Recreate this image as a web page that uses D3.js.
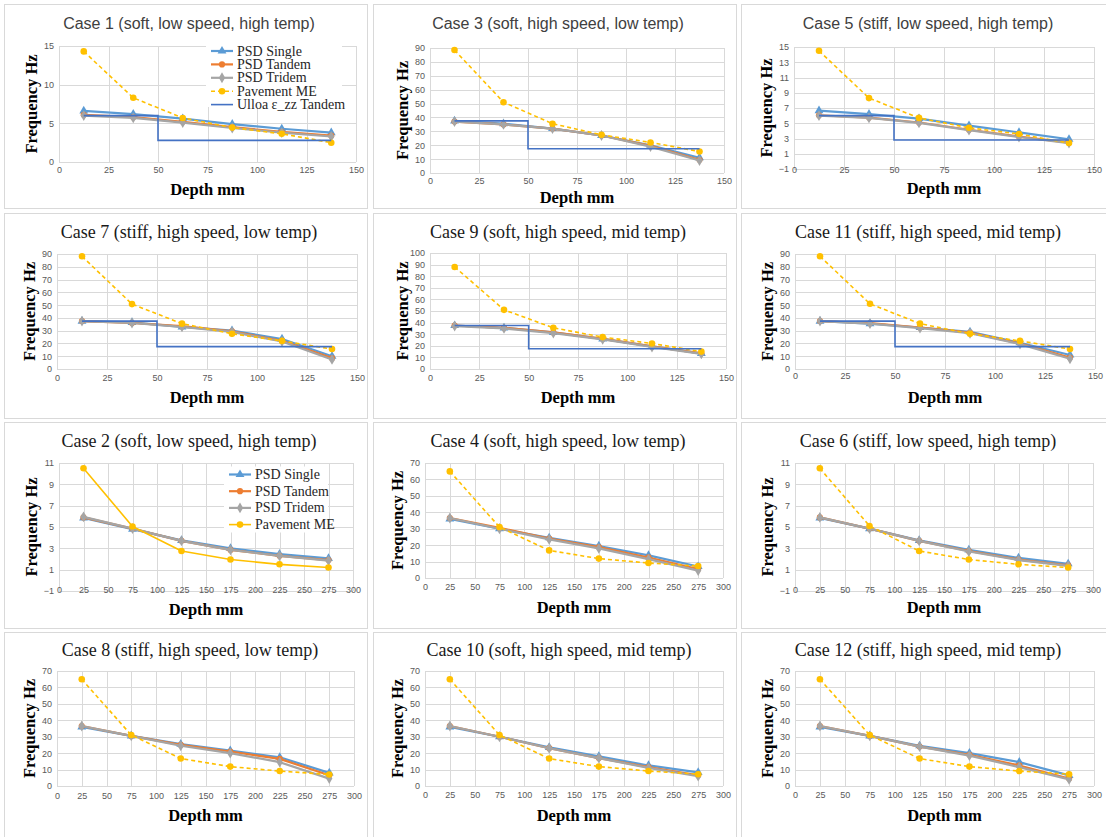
<!DOCTYPE html>
<html>
<head>
	<meta charset="utf-8">
	<title>PSD vs Pavement ME frequency</title>
	<script type="text/javascript" src="https://cdn.jsdelivr.net/npm/d3@7/dist/d3.min.js"></script>
	<style>
		body { margin: 0; background: #fff; }
	</style>
</head>
<body>
	<script type="text/javascript">
		// panel order on the page (row by row)
		var caseOrder = [1, 3, 5, 7, 9, 11, 2, 4, 6, 8, 10, 12];
		var titles = {
			1: "Case 1 (soft, low speed, high temp)",
			2: "Case 2 (soft, low speed, high temp)",
			3: "Case 3 (soft, high speed, low temp)",
			4: "Case 4 (soft, high speed, low temp)",
			5: "Case 5 (stiff, low speed, high temp)",
			6: "Case 6 (stiff, low speed, high temp)",
			7: "Case 7 (stiff, high speed, low temp)",
			8: "Case 8 (stiff, high speed, low temp)",
			9: "Case 9 (soft, high speed, mid temp)",
			10: "Case 10 (soft, high speed, mid temp)",
			11: "Case 11 (stiff, high speed, mid temp)",
			12: "Case 12 (stiff, high speed, mid temp)"
		};
		var seriesNames = ["PSD Single", "PSD Tandem", "PSD Tridem", "Pavement ME", "Ulloa \u03b5_zz Tandem"];

		// depths, mm
		var depthsShallow = [12.5, 37.5, 62.5, 87.5, 112.5, 137.5]; // cases 1,3,5,7,9,11
		var depthsDeep = [25, 75, 125, 175, 225, 275];               // cases 2,4,6,8,10,12

		// y axis: min, max, step (by case number, index = case-1)
		var yMin  = [0, -1, 0, 0, -1, -1, 0, 0, 0, 0, 0, 0];
		var yMax  = [15, 11, 90, 70, 15, 11, 90, 70, 100, 70, 90, 70];
		var yStep = [5, 2, 10, 10, 2, 2, 10, 10, 10, 10, 10, 10];

		// frequency Hz, index = case-1
		var psdSingle = [
			[6.6, 6.2, 5.6, 4.9, 4.3, 3.8],
			[5.85, 4.8, 3.75, 3.0, 2.45, 2.05],
			[37.5, 35.5, 32, 27, 20, 11],
			[36, 30, 24.5, 19.5, 13.8, 7],
			[6.65, 6.2, 5.6, 4.7, 3.8, 2.9],
			[5.85, 4.85, 3.75, 2.85, 2.1, 1.55],
			[37.5, 36.5, 33, 30, 23.5, 10],
			[36, 30.5, 25.5, 21.5, 17.5, 8],
			[37.5, 35.5, 31.5, 26, 19.5, 13.5],
			[36, 30, 23.5, 18, 12.5, 8.3],
			[37.5, 35.5, 32.5, 29, 20.5, 11],
			[36, 30.5, 24.5, 20, 14.5, 6.5]
		];
		var psdTandem = [
			[6.1, 5.8, 5.2, 4.5, 3.9, 3.4],
			[5.9, 4.85, 3.7, 2.85, 2.3, 1.9],
			[37, 35, 32, 27, 19.5, 9.5],
			[36.5, 30.5, 24, 18.8, 12.5, 5.5],
			[6.05, 5.75, 5.1, 4.15, 3.25, 2.45],
			[5.9, 4.85, 3.7, 2.75, 1.95, 1.4],
			[37.5, 36, 33.5, 29.5, 22, 8.5],
			[36.5, 30.5, 25, 21, 16.5, 6.5],
			[37.5, 35.5, 31.5, 26, 19.5, 13.5],
			[36.5, 30, 23, 17, 11.5, 6.5],
			[37.5, 36, 32.5, 28.5, 20, 9],
			[36.5, 30.5, 24, 19, 12.5, 4.5]
		];
		var psdTridem = [
			[6.0, 5.7, 5.1, 4.4, 3.8, 3.3],
			[5.95, 4.85, 3.7, 2.85, 2.3, 1.85],
			[37, 35, 32, 27, 19, 9],
			[36.5, 30, 23.5, 18, 11.5, 4.5],
			[6.0, 5.7, 5.05, 4.1, 3.2, 2.4],
			[5.9, 4.85, 3.7, 2.7, 1.9, 1.35],
			[37.5, 36, 33, 29, 21.5, 7.5],
			[36.5, 30.5, 24.5, 20, 14.5, 4.5],
			[37, 35, 31, 25.5, 19, 13],
			[36.5, 30, 23, 17, 11, 6],
			[37.5, 35.5, 32, 28, 19.5, 8],
			[36.5, 30.5, 24, 18.5, 11.5, 4]
		];
		var pavementME = [
			[14.3, 8.3, 5.7, 4.45, 3.65, 2.5],
			[10.5, 5.05, 2.75, 1.95, 1.5, 1.2],
			[88.5, 51, 35.5, 27.5, 22, 15.5],
			[64.9, 31, 16.8, 11.8, 9.1, 7.3],
			[14.5, 8.3, 5.7, 4.4, 3.6, 2.4],
			[10.5, 5.1, 2.75, 1.95, 1.5, 1.2],
			[88.2, 50.8, 35.5, 27.6, 22, 15.6],
			[65, 31, 16.7, 11.8, 9.1, 7],
			[88, 51, 35.5, 27.5, 22, 15],
			[65, 31, 16.7, 11.8, 9.1, 7.2],
			[88.2, 51, 35.5, 27.6, 22, 15.6],
			[65, 31, 16.7, 11.8, 9.1, 7.2]
		];
		// Ulloa step: value above and below the 50 mm break (shallow cases only)
		var ulloaBreak = 50;
		var ulloaUpper = {1: 6.0, 3: 37.5, 5: 6.0, 7: 37.5, 9: 37.5, 11: 37.5};
		var ulloaLower = {1: 2.8, 3: 17.5, 5: 2.8, 7: 17.5, 9: 17.5, 11: 17.5};

		var colors = ["#5b9bd5", "#ed7d31", "#a5a5a5", "#ffc000", "#4472c4"];
		var shapes = [d3.symbolTriangle, d3.symbolCircle, d3.symbolDiamond, d3.symbolCircle];
		var sizes = [34, 30, 34, 34];

		// plot boxes per panel (same order as caseOrder)
		var boxes = [
			{x0: 59, x1: 356, y0: 46, y1: 162, tickY: 173, titleX: 189, titleY: 29, labY: 195},
			{x0: 430, x1: 724, y0: 48, y1: 173, tickY: 184, titleX: 558, titleY: 29, labY: 203},
			{x0: 794, x1: 1094, y0: 47, y1: 169, tickY: 173, titleX: 928, titleY: 29, labY: 194},
			{x0: 57, x1: 357, y0: 254, y1: 369, tickY: 380.5, titleX: 189, titleY: 238, labY: 403},
			{x0: 430, x1: 726, y0: 253, y1: 369, tickY: 380.5, titleX: 558, titleY: 238, labY: 403},
			{x0: 795, x1: 1095, y0: 254, y1: 369, tickY: 379, titleX: 928, titleY: 238, labY: 403},
			{x0: 59, x1: 353, y0: 463, y1: 591, tickY: 592.5, titleX: 189, titleY: 447, labY: 615},
			{x0: 425, x1: 723, y0: 463, y1: 578, tickY: 589.5, titleX: 558, titleY: 447, labY: 613},
			{x0: 795, x1: 1093, y0: 463, y1: 591, tickY: 592.5, titleX: 928, titleY: 447, labY: 613},
			{x0: 57, x1: 354, y0: 671, y1: 786, tickY: 798.5, titleX: 190, titleY: 656, labY: 821},
			{x0: 425, x1: 723, y0: 671, y1: 786, tickY: 797.5, titleX: 559, titleY: 656, labY: 821},
			{x0: 795, x1: 1094, y0: 671, y1: 786, tickY: 797.5, titleX: 928, titleY: 656, labY: 821}
		];
		var colX = [[4, 367], [373, 736], [741, 1112]];
		var rowY = [[4, 208], [213, 418], [422, 628], [632, 842]];

		var svg = d3.select("body").append("svg")
			.attr("width", 1106)
			.attr("height", 837)
			.style("display", "block");

		svg.append("rect").attr("width", 1106).attr("height", 837).attr("fill", "#fff");

		// panel frames
		caseOrder.forEach(function(c, i){
			var cx = colX[i % 3], ry = rowY[Math.floor(i / 3)];
			svg.append("rect")
				.attr("x", cx[0] + 0.5).attr("y", ry[0] + 0.5)
				.attr("width", cx[1] - cx[0]).attr("height", ry[1] - ry[0])
				.attr("fill", "#fff").attr("stroke", "#d9d9d9");
		});

		caseOrder.forEach(function(c, i){
			var b = boxes[i];
			var k = c - 1;
			var shallow = (c % 2 === 1);
			var depths = shallow ? depthsShallow : depthsDeep;
			var xMax = shallow ? 150 : 300;
			var g = svg.append("g");

			var x = d3.scaleLinear().domain([0, xMax]).range([b.x0, b.x1]);
			var y = d3.scaleLinear().domain([yMin[k], yMax[k]]).range([b.y1, b.y0]);
			var xTicks = d3.range(0, xMax + 1, 25);
			var yTicks = d3.range(yMin[k], yMax[k] + 0.001, yStep[k]);

			// grid
			g.append("g").selectAll("line").data(yTicks).enter().append("line")
				.attr("x1", b.x0).attr("x2", b.x1)
				.attr("y1", function(d){ return Math.round(y(d)) + 0.5; })
				.attr("y2", function(d){ return Math.round(y(d)) + 0.5; })
				.attr("stroke", "#d9d9d9").attr("stroke-width", 1);
			g.append("g").selectAll("line").data(xTicks).enter().append("line")
				.attr("x1", function(d){ return Math.round(x(d)) + 0.5; })
				.attr("x2", function(d){ return Math.round(x(d)) + 0.5; })
				.attr("y1", b.y0).attr("y2", b.y1)
				.attr("stroke", "#d9d9d9").attr("stroke-width", 1);

			// axis tick labels through d3 axes
			var yAxis = g.append("g")
				.attr("transform", "translate(" + (b.x0 - 1) + ",0)")
				.call(d3.axisLeft(y).tickValues(yTicks).tickSize(0).tickPadding(4).tickFormat(d3.format("d")));
			var xAxis = g.append("g")
				.attr("transform", "translate(0," + (b.tickY - 6) + ")")
				.call(d3.axisBottom(x).tickValues(xTicks).tickSize(0).tickPadding(0).tickFormat(d3.format("d")));
			[yAxis, xAxis].forEach(function(a){
				a.select(".domain").remove();
				a.selectAll("text")
					.attr("fill", "#595959")
					.style("font-family", "'Liberation Sans', Arial, sans-serif")
					.style("font-size", "9px");
			});

			// titles and axis labels
			var sansTitle = (i < 3);
			g.append("text")
				.attr("x", b.titleX).attr("y", b.titleY)
				.attr("text-anchor", "middle")
				.attr("fill", sansTitle ? "#404040" : "#1a1a1a")
				.style("font-family", sansTitle ? "'Liberation Sans', Arial, sans-serif" : "'Liberation Serif', 'Times New Roman', serif")
				.style("font-size", sansTitle ? "16px" : "18px")
				.text(titles[c]);
			g.append("text")
				.attr("transform", "translate(" + (b.x0 - 22) + "," + ((b.y0 + b.y1) / 2) + ") rotate(-90)")
				.attr("text-anchor", "middle")
				.attr("fill", "#000")
				.style("font-family", "'Liberation Serif', 'Times New Roman', serif")
				.style("font-weight", "bold")
				.style("font-size", "16.5px")
				.text("Frequency Hz");
			g.append("text")
				.attr("x", (b.x0 + b.x1) / 2).attr("y", b.labY)
				.attr("text-anchor", "middle")
				.attr("fill", "#000")
				.style("font-family", "'Liberation Serif', 'Times New Roman', serif")
				.style("font-weight", "bold")
				.style("font-size", "16.5px")
				.text("Depth mm");

			// series
			var series = [psdSingle[k], psdTandem[k], psdTridem[k], pavementME[k]];
			var line = d3.line()
				.x(function(d){ return x(d[0]); })
				.y(function(d){ return y(d[1]); });
			var meDashed = (c !== 2);

			series.forEach(function(vals, s){
				var pts = depths.map(function(d, j){ return [d, vals[j]]; });
				g.append("path")
					.attr("d", line(pts))
					.attr("fill", "none")
					.attr("stroke", colors[s])
					.attr("stroke-width", s === 3 ? 1.6 : 2.2)
					.attr("stroke-dasharray", (s === 3 && meDashed) ? "4,3" : null)
					.attr("stroke-linejoin", "round");
				g.append("g").selectAll("path").data(pts).enter().append("path")
					.attr("transform", function(d){ return "translate(" + x(d[0]) + "," + y(d[1]) + ")"; })
					.attr("d", d3.symbol().type(shapes[s]).size(sizes[s]))
					.attr("fill", colors[s]);
			});

			if (shallow) {
				var stepPts = [[depths[0], ulloaUpper[c]], [ulloaBreak, ulloaLower[c]], [depths[depths.length - 1], ulloaLower[c]]];
				g.append("path")
					.attr("d", d3.line().curve(d3.curveStepAfter)
						.x(function(d){ return x(d[0]); })
						.y(function(d){ return y(d[1]); })(stepPts))
					.attr("fill", "none")
					.attr("stroke", colors[4])
					.attr("stroke-width", 1.6);
			}
		});

		// legends (case 1 and case 2 panels)
		function legend(lx, ly, dy, w, h, n, meDashed){
			var lg = svg.append("g");
			lg.append("rect").attr("x", lx - 5).attr("y", ly - 8).attr("width", w).attr("height", h).attr("fill", "#fff");
			for (var s = 0; s < n; s++) {
				var yy = ly + s * dy;
				lg.append("line")
					.attr("x1", lx).attr("x2", lx + 22).attr("y1", yy).attr("y2", yy)
					.attr("stroke", colors[s])
					.attr("stroke-width", (s >= 3) ? 1.6 : 2.2)
					.attr("stroke-dasharray", (s === 3 && meDashed) ? "4,3" : null);
				if (s < 4) {
					lg.append("path")
						.attr("transform", "translate(" + (lx + 11) + "," + yy + ")")
						.attr("d", d3.symbol().type(shapes[s]).size(sizes[s]))
						.attr("fill", colors[s]);
				}
				lg.append("text")
					.attr("x", lx + 26).attr("y", yy + 4.5)
					.attr("fill", "#262626")
					.style("font-family", "'Liberation Serif', 'Times New Roman', serif")
					.style("font-size", "14px")
					.text(seriesNames[s]);
			}
		}
		legend(211, 51, 13.4, 136, 64, 5, true);
		legend(229, 474.5, 16.7, 104, 66, 4, false);
	</script>
</body>
</html>
